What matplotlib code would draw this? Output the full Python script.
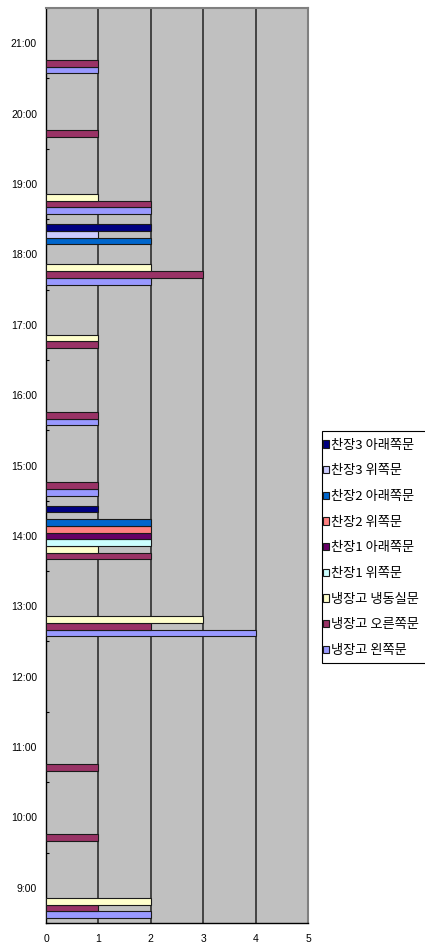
import matplotlib
matplotlib.use("Agg")
import matplotlib.pyplot as plt
import numpy as np
from matplotlib.patches import Rectangle

hours = ['9:00', '10:00', '11:00', '12:00', '13:00', '14:00', '15:00',
         '16:00', '17:00', '18:00', '19:00', '20:00', '21:00']

series_names = ['냉장고 왼쪽문', '냉장고 오른쪽문', '냉장고 냉동실문',
                '찬장1 위쪽문', '찬장1 아래쪽문', '찬장2 위쪽문',
                '찬장2 아래쪽문', '찬장3 위쪽문', '찬장3 아래쪽문']

fridge_left   = [2, 0, 0, 0, 4, 0, 1, 1, 0, 2, 2, 0, 1]
fridge_right  = [1, 1, 1, 0, 2, 2, 1, 1, 1, 3, 2, 1, 1]
fridge_freeze = [2, 0, 0, 0, 3, 1, 0, 0, 1, 2, 1, 0, 0]
cab1_upper    = [0, 0, 0, 0, 0, 2, 0, 0, 0, 0, 0, 0, 0]
cab1_lower    = [0, 0, 0, 0, 0, 2, 0, 0, 0, 0, 0, 0, 0]
cab2_upper    = [0, 0, 0, 0, 0, 2, 0, 0, 0, 0, 0, 0, 0]
cab2_lower    = [0, 0, 0, 0, 0, 2, 0, 0, 0, 2, 0, 0, 0]
cab3_upper    = [0, 0, 0, 0, 0, 0, 0, 0, 0, 1, 0, 0, 0]
cab3_lower    = [0, 0, 0, 0, 0, 1, 0, 0, 0, 2, 0, 0, 0]

series_values = [fridge_left, fridge_right, fridge_freeze, cab1_upper, cab1_lower,
                 cab2_upper, cab2_lower, cab3_upper, cab3_lower]

colors = ['#9999FF', '#993366', '#FFFFCC', '#CCFFFF', '#660066',
          '#FF8080', '#0066CC', '#CCCCFF', '#000080']

W, H = 425, 944
fig = plt.figure(figsize=(W / 100, H / 100), dpi=100)
ax = fig.add_axes([46 / W, (H - 923) / H, 262 / W, 915 / H])
ax.set_facecolor('#C0C0C0')

n = len(series_names)
gap = 1.5
h = 1.0 / (n + gap)
y = np.arange(len(hours))
start = -n * h / 2
handles = []
for k, (name, vals, c) in enumerate(zip(series_names, series_values, colors)):
    vals = np.asarray(vals, dtype=float)
    yy = y + start + h * (k + 0.5)
    mask = vals > 0
    ax.barh(yy[mask], vals[mask], height=h, color=c, edgecolor='#1a1a1a',
            linewidth=0.8, zorder=3)
    handles.append(Rectangle((0, 0), 1, 1, facecolor=c, edgecolor='#1a1a1a', linewidth=0.8))

ax.set_xlim(0, 5)
ax.set_ylim(-0.5, len(hours) - 0.5)
for xv in [1, 2, 3, 4]:
    ax.axvline(xv, color='#222222', lw=1.1, zorder=1)

ax.set_xticks(range(6))
ax.set_xticklabels([str(i) for i in range(6)], fontsize=7.5, family='Liberation Sans')
ax.tick_params(axis='x', length=0, pad=8)
ax.set_yticks(y)
ax.set_yticklabels(hours, fontsize=7.5, family='Liberation Sans')
ax.tick_params(axis='y', which='major', length=0, pad=6.5)
ax.set_yticks(np.arange(len(hours) + 1) - 0.5, minor=True)
ax.tick_params(axis='y', which='minor', length=2.5, direction='in', width=0.8, color='black')

ax.spines['left'].set_color('black')
ax.spines['bottom'].set_color('black')
ax.spines['left'].set_linewidth(1.0)
ax.spines['bottom'].set_linewidth(1.0)
ax.spines['top'].set_color('#808080')
ax.spines['right'].set_color('#808080')
ax.spines['top'].set_linewidth(1.5)
ax.spines['right'].set_linewidth(1.5)

# legend frame (extends past figure edge)
fig.patches.append(Rectangle((322 / W, (H - 663) / H), 110 / W, 232 / H,
                             transform=fig.transFigure, facecolor='white',
                             edgecolor='black', linewidth=0.8, zorder=0))
leg = fig.legend(handles[::-1], series_names[::-1], loc='upper left',
                 bbox_to_anchor=(320 / W, (H - 436) / H), frameon=False,
                 prop={'family': ['Noto Sans CJK KR', 'DejaVu Sans'], 'size': 9.5},
                 handlelength=0.5, handleheight=0.5, handletextpad=0.15,
                 labelspacing=0.96, borderpad=0.2, borderaxespad=0)

fig.savefig('out.png', dpi=100, facecolor='white')
